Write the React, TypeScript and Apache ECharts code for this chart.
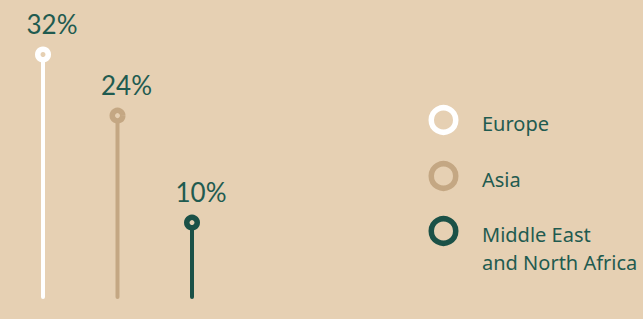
import React, { useEffect, useRef } from "react";
import * as echarts from "echarts";

const categories = ["Europe", "Asia", "Middle East and North Africa"];
const values = [32, 24, 10];
const legendNames = ["Europe", "Asia", "Middle East\nand North Africa"];
const colors = ["#ffffff", "#c4a783", "#1b5147"];

const BG = "#e6d0b3";
const TEXT = "#1f5b50";

export default function App() {
  const ref = useRef<HTMLDivElement>(null);
  useEffect(() => {
    if (!ref.current) return;
    const chart = echarts.init(ref.current, undefined, { renderer: "svg" });
    const legendY = [120, 176, 231];
    const graphics: any[] = [];
    legendNames.forEach((name, i) => {
      graphics.push({
        type: "circle",
        shape: { cx: 443.5, cy: legendY[i], r: 12.25 },
        style: { fill: "transparent", stroke: colors[i], lineWidth: 5.5 },
      });
      graphics.push({
        type: "text",
        x: 482,
        y: legendY[i] - 11,
        style: {
          text: name,
          fill: TEXT,
          font: '20px "Noto Sans"',
          lineHeight: 28,
          verticalAlign: "top",
          align: "left",
        },
      });
    });
    chart.setOption({
      animation: false,
      backgroundColor: BG,
      grid: { left: 5.75, right: 413.75, top: 54.5, bottom: 20 },
      xAxis: {
        type: "category",
        data: categories,
        show: false,
        boundaryGap: true,
      },
      yAxis: { type: "value", min: 0, max: 32, show: false },
      series: [
        {
          type: "bar",
          barWidth: 4,
          z: 1,
          data: values.map((v, i) => ({
            value: v,
            itemStyle: { color: colors[i], borderRadius: [0, 0, 2, 2] },
          })),
        },
        {
          type: "scatter",
          symbol: "circle",
          symbolSize: 10.5,
          z: 3,
          data: values.map((v, i) => ({
            value: v,
            itemStyle: { color: BG, borderColor: colors[i], borderWidth: 5.5, opacity: 1 },
          })),
          label: {
            show: true,
            position: "top",
            distance: 10,
            offset: [9, 0],
            formatter: "{c}%",
            color: TEXT,
            fontFamily: "Lato",
            fontWeight: 400,
            fontSize: 26,
          },
        },
      ],
      graphic: graphics,
    });
    return () => chart.dispose();
  }, []);
  return (
    <div
      ref={ref}
      style={{ position: "absolute", left: 0, top: 0, width: 643, height: 319 }}
    />
  );
}
